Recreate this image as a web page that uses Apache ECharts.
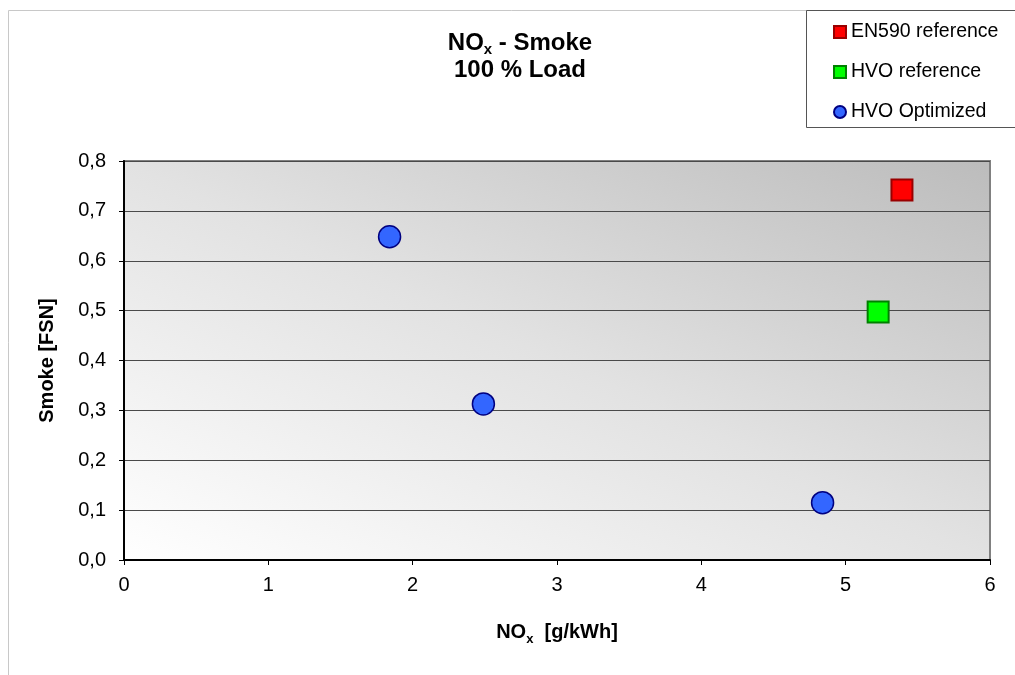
<!DOCTYPE html>
<html>
<head>
<meta charset="utf-8">
<script src="https://cdn.jsdelivr.net/npm/echarts@6/dist/echarts.min.js"></script>
<style>html,body{margin:0;padding:0;background:#fff}#c{width:1015px;height:675px}</style>
</head>
<body>
<div id="c"></div>
<script>
// Data
const seriesNames = ['EN590 reference', 'HVO reference', 'HVO Optimized'];
const en590NOx = [5.39];
const en590Smoke = [0.742];
const hvoRefNOx = [5.225];
const hvoRefSmoke = [0.497];
const hvoOptNOx = [1.84, 2.49, 4.84];
const hvoOptSmoke = [0.648, 0.313, 0.115];
const xTicks = { min: 0, max: 6, interval: 1 };
const yTicks = { min: 0, max: 0.8, interval: 0.1 };

const pair = (xs, ys) => xs.map((x, i) => [x, ys[i]]);
const FONT = '"Liberation Sans", Arial, sans-serif';

const chart = echarts.init(document.getElementById('c'), null, { renderer: 'canvas' });

const subRich = {
  m: { fontFamily: FONT, fontWeight: 'bold', fontSize: 20, lineHeight: 28, verticalAlign: 'middle', color: '#000' },
  s: { fontFamily: FONT, fontWeight: 'bold', fontSize: 13, lineHeight: 28, verticalAlign: 'bottom', color: '#000' }
};
const titleRich = {
  m: { fontFamily: FONT, fontWeight: 'bold', fontSize: 24, lineHeight: 28, verticalAlign: 'middle', color: '#000' },
  s: { fontFamily: FONT, fontWeight: 'bold', fontSize: 15, lineHeight: 28, verticalAlign: 'bottom', color: '#000' }
};

const option = {
  animation: false,
  backgroundColor: '#fff',
  textStyle: { fontFamily: FONT },
  title: [
    { text: '{m|NO}{s|x}{m| - Smoke}', left: 520, top: 29, textAlign: 'center', padding: 0,
      textStyle: { rich: titleRich } },
    { text: '{m|100 % Load}', left: 520, top: 56, textAlign: 'center', padding: 0,
      textStyle: { rich: titleRich } }
  ],
  graphic: [
    { type: 'line', z: 0, silent: true, shape: { x1: 8.5, y1: 10.5, x2: 1015, y2: 10.5 }, style: { stroke: '#c8c8c8', lineWidth: 1 } },
    { type: 'line', z: 0, silent: true, shape: { x1: 8.5, y1: 10.5, x2: 8.5, y2: 675 }, style: { stroke: '#c8c8c8', lineWidth: 1 } },
    { type: 'rect', z: 1, silent: true, shape: { x: 806.5, y: 10.5, width: 240, height: 117 }, style: { fill: '#fff', stroke: '#555', lineWidth: 1 } }
  ],
  legend: {
    z: 10,
    orient: 'vertical',
    left: 833,
    top: 22,
    padding: 0,
    itemWidth: 12,
    itemHeight: 12,
    itemGap: 20,
    data: seriesNames,
    textStyle: { fontFamily: FONT, fontSize: 19.5, color: '#000', padding: [0, 0, 0, 0] }
  },
  grid: {
    left: 124, right: 25, top: 161, bottom: 115,
    show: true,
    borderColor: '#808080',
    borderWidth: 2,
    backgroundColor: {
      type: 'linear', global: true,
      x: 405.5, y: 689.7, x2: 708.5, y2: 31.3,
      colorStops: [
        { offset: 0, color: '#ffffff' },
        { offset: 0.5, color: '#e2e2e2' },
        { offset: 1, color: '#bcbcbc' }
      ]
    }
  },
  xAxis: {
    type: 'value',
    min: xTicks.min, max: xTicks.max, interval: xTicks.interval,
    name: '{m|NO}{s|x}{m|  [g/kWh]}',
    nameLocation: 'middle',
    nameGap: 58,
    nameTextStyle: { rich: subRich },
    axisLine: { show: true, onZero: false, lineStyle: { color: '#000', width: 2 } },
    axisTick: { show: true, length: 5, inside: false, lineStyle: { color: '#000' } },
    axisLabel: { fontFamily: FONT, fontSize: 20, color: '#000', margin: 15 },
    splitLine: { show: false }
  },
  yAxis: {
    type: 'value',
    min: yTicks.min, max: yTicks.max, interval: yTicks.interval,
    name: 'Smoke [FSN]',
    nameLocation: 'middle',
    nameGap: 67,
    nameTextStyle: { fontFamily: FONT, fontWeight: 'bold', fontSize: 20, color: '#000' },
    axisLine: { show: true, onZero: false, lineStyle: { color: '#000', width: 2 } },
    axisTick: { show: true, length: 5, inside: false, lineStyle: { color: '#000' } },
    axisLabel: { fontFamily: FONT, fontSize: 20, color: '#000', margin: 18,
      formatter: v => v.toFixed(1).replace('.', ',') },
    splitLine: { show: true, lineStyle: { color: '#4a4a4a', width: 1 } }
  },
  series: [
    { name: seriesNames[0], type: 'scatter', symbol: 'rect', symbolSize: 21, z: 5,
      itemStyle: { color: '#ff0000', borderColor: '#990000', borderWidth: 2, opacity: 1 },
      data: pair(en590NOx, en590Smoke) },
    { name: seriesNames[1], type: 'scatter', symbol: 'rect', symbolSize: 21, z: 5,
      itemStyle: { color: '#00ff00', borderColor: '#008000', borderWidth: 2, opacity: 1 },
      data: pair(hvoRefNOx, hvoRefSmoke) },
    { name: seriesNames[2], type: 'scatter', symbol: 'circle', symbolSize: 22, z: 5,
      itemStyle: { color: '#3366ff', borderColor: '#000080', borderWidth: 1.5, opacity: 1 },
      data: pair(hvoOptNOx, hvoOptSmoke) }
  ]
};
chart.setOption(option);
</script>
</body>
</html>
